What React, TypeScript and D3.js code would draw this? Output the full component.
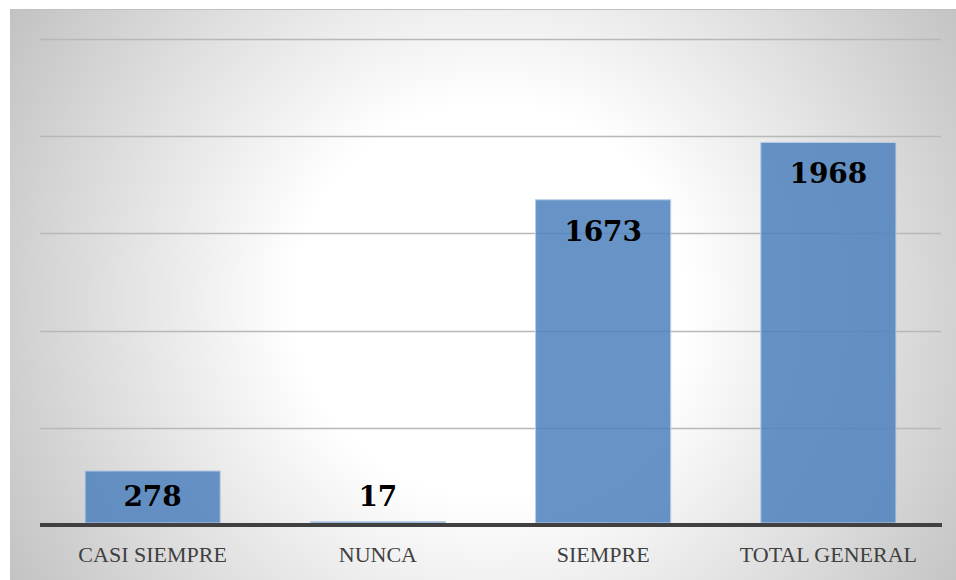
import { useEffect, useRef } from "react"
import * as d3 from "d3"

const categories = ["CASI SIEMPRE", "NUNCA", "SIEMPRE", "TOTAL GENERAL"]
const values = [278, 17, 1673, 1968]
const yTicks = [0, 500, 1000, 1500, 2000, 2500]

const width = 956
const height = 580
const marginLeft = 40
const marginRight = 15
const marginTop = 39
const marginBottom = 55

const App = () => {
  const svgRef = useRef<SVGSVGElement>(null)

  useEffect(() => {
    const svg = d3.select(svgRef.current)
    svg.selectAll("*").remove()

    // background gradient
    const defs = svg.append("defs")
    const grad = defs.append("radialGradient")
      .attr("id", "bg")
      .attr("gradientUnits", "userSpaceOnUse")
      .attr("cx", 490).attr("cy", 300).attr("r", 560)
    grad.append("stop").attr("offset", "0%").attr("stop-color", "#ffffff")
    grad.append("stop").attr("offset", "35%").attr("stop-color", "#ffffff")
    grad.append("stop").attr("offset", "100%").attr("stop-color", "#c2c2c2")

    svg.append("rect")
      .attr("x", 10).attr("y", 9)
      .attr("width", width).attr("height", height)
      .attr("fill", "url(#bg)")
    svg.append("line")
      .attr("x1", 10).attr("x2", width).attr("y1", 9.5).attr("y2", 9.5)
      .attr("stroke", "#c0c0c0")

    // scales
    const x = d3.scaleBand()
      .domain(categories)
      .range([marginLeft, width - marginRight])
      .paddingInner(0.4)
      .paddingOuter(0.2)

    const y = d3.scaleLinear()
      .domain([0, 2500])
      .range([height - marginBottom, marginTop])

    // gridlines
    svg.append("g")
      .selectAll("line")
      .data(yTicks.filter(t => t > 0))
      .join("line")
        .attr("x1", marginLeft)
        .attr("x2", width - marginRight)
        .attr("y1", d => Math.round(y(d)) + 0.5)
        .attr("y2", d => Math.round(y(d)) + 0.5)
        .attr("stroke", "#b8b8b8")
        .attr("stroke-width", 1.5)

    // bars
    svg.append("g")
      .selectAll("rect")
      .data(values)
      .join("rect")
        .attr("x", (d, i) => x(categories[i])!)
        .attr("y", d => y(d))
        .attr("width", x.bandwidth())
        .attr("height", d => y(0) - y(d) - 2)
        .attr("fill", "#4f81bd")
        .attr("fill-opacity", 0.86)
        .attr("stroke", "#b9cde6")
        .attr("stroke-width", 1)

    // baseline
    svg.append("line")
      .attr("x1", marginLeft)
      .attr("x2", width - marginRight + 1)
      .attr("y1", y(0))
      .attr("y2", y(0))
      .attr("stroke", "#404040")
      .attr("stroke-width", 4)

    // value labels
    svg.append("g")
      .attr("text-anchor", "middle")
      .attr("font-family", "'DejaVu Serif', serif")
      .attr("font-weight", "bold")
      .attr("font-size", 28)
      .attr("fill", "#000")
      .selectAll("text")
      .data(values)
      .join("text")
        .attr("x", (d, i) => x(categories[i])! + x.bandwidth() / 2)
        .attr("y", d => Math.min(y(d) + 41, y(0) - 19))
        .text(d => d)

    // category labels
    svg.append("g")
      .attr("text-anchor", "middle")
      .attr("font-family", "'Liberation Serif', serif")
      .attr("font-size", 22)
      .attr("fill", "#404040")
      .selectAll("text")
      .data(categories)
      .join("text")
        .attr("x", d => x(d)! + x.bandwidth() / 2)
        .attr("y", 562)
        .text(d => d)
  }, [])

  return (
    <svg
      ref={svgRef}
      width={width}
      height={height}
      style={{ position: "absolute", left: 0, top: 0, background: "#fff" }}
    />
  )
}

export default App
